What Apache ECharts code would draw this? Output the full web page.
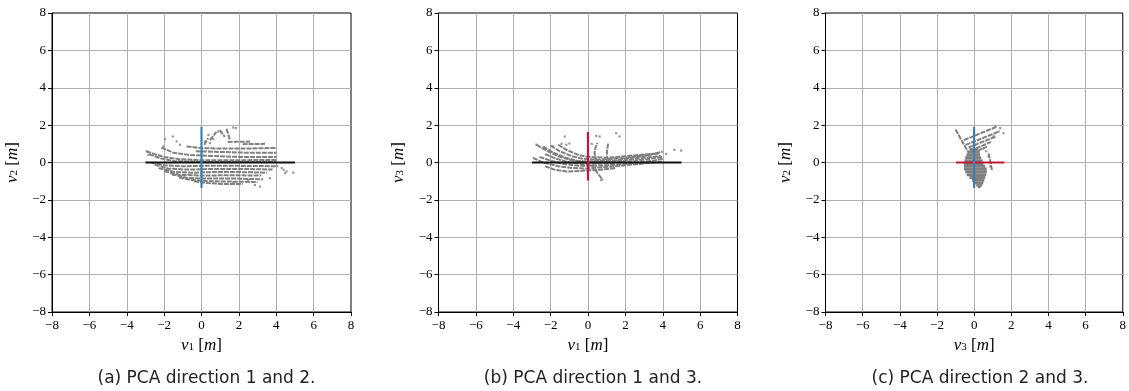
<!DOCTYPE html>
<html>
<head>
<meta charset="utf-8">
<script src="https://cdn.jsdelivr.net/npm/echarts@6/dist/echarts.min.js"></script>
<style>
  html, body { margin: 0; padding: 0; background: #fff; }
  #chart { width: 1129px; height: 391px; }
</style>
</head>
<body>
<div id="chart"></div>
<script>
// axis range / ticks shared by all three panels
const tickMin = -8;
const tickMax = 8;
const tickStep = 2;
const captions = ['(a) PCA direction 1 and 2.', '(b) PCA direction 1 and 3.', '(c) PCA direction 2 and 3.'];
const xNames = ['1', '1', '3'];
const yNames = ['2', '3', '2'];

// principal direction extents (metres)
const dirV1 = [-3.0, 5.0];
const dirV2 = [-1.36, 1.91];
const dirV3 = [-0.97, 1.63];

// panel (a): v1 vs v2, scan lines
const scanA = [
    [[-2.95, 0.6], [-2.5, 0.45], [-2.0, 0.3], [-1.2, 0.18], [0, 0.12], [2, 0.12], [4.0, 0.14]],
    [[-2.8, 0.45], [-2.2, 0.22], [-1.5, 0.08], [0, 0.03], [4.0, 0.03]],
    [[-2.15, 0.8], [-1.5, 0.52], [-0.6, 0.4], [0.5, 0.35], [2, 0.3], [4.0, 0.3]],
    [[-0.8, 0.86], [0, 0.77], [1, 0.75], [2.5, 0.75], [4.0, 0.78]],
    [[-0.3, 0.6], [0.5, 0.58], [1.6, 0.55], [2.5, 0.52], [4.0, 0.52]],
    [[1.4, 1.1], [2.6, 1.12]],
    [[2.2, 0.98], [3.4, 1.0]],
    [[0.45, 1.2], [0.8, 1.64]],
    [[0.98, 1.73], [1.25, 1.37]],
    [[1.34, 1.8], [1.52, 1.2]],
    [[0.15, 0.95], [0.35, 1.3]],
    [[-2.7, 0.0], [-2.0, -0.15], [-1, -0.2], [0, -0.18], [2, -0.18], [4.0, -0.2]],
    [[-2.5, -0.12], [-1.8, -0.32], [-0.8, -0.38], [0.5, -0.35], [2.5, -0.35], [3.8, -0.38]],
    [[-2.3, -0.3], [-1.5, -0.5], [-0.5, -0.55], [1, -0.5], [2.5, -0.52], [3.5, -0.55]],
    [[-2.0, -0.45], [-1.2, -0.66], [0, -0.7], [1.5, -0.68], [3.2, -0.7]],
    [[-1.6, -0.62], [-0.8, -0.82], [0, -0.86], [1.5, -0.85], [3.3, -0.9]],
    [[-1.2, -0.8], [-0.6, -0.93], [0.3, -1.0], [1.5, -1.02], [3.0, -1.05]],
    [[-0.4, -1.0], [0.3, -1.1], [1.2, -1.15], [2.2, -1.15]]
];
const dotsA = [
    [-1.95, 1.25], [-1.54, 1.39], [-2.04, 0.86], [-1.33, 1.13], [-1.15, 0.95], [0.37, 1.48],
    [0.9, 1.66], [1.7, 1.87], [1.84, 1.84], [0.19, 1.13], [0.45, 1.04], [0.63, 1.25],
    [4.55, -0.48], [4.91, -0.54], [4.29, -0.3], [4.47, -0.57], [-2.93, 0.59], [-2.84, 0.41],
    [-1.77, -0.39], [-1.51, -0.66], [2.86, -1.2], [3.13, -1.29], [2.5, -0.93], [3.66, -0.84],
    [1.7, -1.07], [4.05, -0.2], [4.4, -0.39]
];

// panel (b): v1 vs v3
const scanB = [
    [[-2.75, 0.95], [-2.2, 0.62], [-1.5, 0.3], [-0.8, 0.1], [0, 0.0], [1.5, 0.05], [3.0, 0.25], [3.9, 0.35]],
    [[-2.4, 0.85], [-1.9, 0.55], [-1.2, 0.25], [-0.5, 0.08], [0, 0.05], [1.5, 0.12], [3.0, 0.35], [3.8, 0.5]],
    [[-2.0, 0.9], [-1.5, 0.6], [-0.9, 0.35], [-0.3, 0.2], [0.5, 0.15], [2, 0.25], [3.5, 0.45], [4.0, 0.58]],
    [[-1.6, 0.95], [-1.1, 0.65], [-0.5, 0.4], [0, 0.3], [1, 0.25], [2.5, 0.38], [3.8, 0.5]],
    [[-2.95, 0.25], [-2.4, 0.0], [-1.6, -0.2], [-0.8, -0.3], [0, -0.32], [1.5, -0.2], [3, -0.05], [4, 0.05]],
    [[-2.6, 0.3], [-2.0, 0.1], [-1.3, -0.08], [-0.5, -0.18], [0.5, -0.18], [2, -0.08], [3.5, 0.1], [4, 0.2]],
    [[-2.3, 0.45], [-1.7, 0.2], [-1.0, 0.0], [-0.3, -0.08], [1, -0.05], [2.5, 0.08], [4, 0.3]],
    [[-2.3, -0.2], [-1.8, -0.38], [-1.16, -0.48], [-0.44, -0.45], [0.5, -0.4], [1.5, -0.3]],
    [[0.45, 0.05], [0.35, 0.5], [0.4, 0.8], [0.5, 1.05]],
    [[1.0, 0.1], [1.02, 0.6], [1.08, 1.05]],
    [[0.18, -0.13], [0.5, -0.55], [0.8, -0.95]]
];
const dotsB = [
    [-2.76, 0.95], [-1.87, 0.86], [-1.24, 1.39], [-1.16, 0.95], [-1.42, 1.0], [0.44, 1.43],
    [0.62, 1.39], [1.51, 1.57], [1.69, 1.39], [4.62, 0.68], [4.98, 0.64], [4.18, 0.46],
    [0.71, -0.93], [-1.0, 1.02], [0.2, 1.0]
];

// panel (c): v3 vs v2
const scanC = [
    [[-0.55, 1.2], [1.23, 1.92]],
    [[-0.46, 0.94], [1.32, 1.65]],
    [[-0.3, 0.8], [1.14, 1.38]],
    [[-0.2, 0.62], [0.9, 1.1]],
    [[-0.1, 0.49], [0.69, 0.85]],
    [[-1.0, 1.76], [-0.28, 0.49]],
    [[0.78, 0.49], [0.96, -0.4]]
];
// dense blob rows: [v2, v3 from, v3 to]
const blobC = [
    [0.7, -0.25, 0.2], [0.55, -0.35, 0.3], [0.4, -0.42, 0.32], [0.25, -0.48, 0.38],
    [0.1, -0.52, 0.45], [-0.05, -0.55, 0.5], [-0.2, -0.55, 0.6], [-0.35, -0.55, 0.68],
    [-0.5, -0.48, 0.68], [-0.65, -0.4, 0.65], [-0.8, -0.25, 0.6], [-0.95, -0.12, 0.55],
    [-1.1, 0.0, 0.5], [-1.22, 0.12, 0.42], [-1.3, 0.2, 0.35]
];
const dotsC = [
    [1.4, 1.84], [1.58, 1.57], [1.32, 1.66], [1.14, 1.93], [0.78, 0.32], [0.87, -0.21],
    [0.5, 0.75], [0.65, 0.6], [1.05, 1.4]
];

const GRAY = '#808080';
const BLACK = '#111111';
const BLUE = '#3b80b0';
const RED = '#c0163a';
const panelLeft = [52, 438.5, 825.5];
const plotSize = 299;
const plotTop = 13;

function fmtTick(v) {
    return v < 0 ? '\u2212' + Math.abs(v) : String(v);
}

const nameRich = {
    v: { fontFamily: 'Liberation Serif', fontStyle: 'italic', fontSize: 17, color: '#000', padding: [0, 0, 3, 0] },
    s: { fontFamily: 'Liberation Serif', fontSize: 11, color: '#000' },
    b: { fontFamily: 'Liberation Serif', fontSize: 17, color: '#000', padding: [0, 0, 3, 0] }
};

function axisBase(name, gap, idx) {
    return {
        gridIndex: idx,
        type: 'value',
        min: tickMin, max: tickMax, interval: tickStep,
        name: '{v|v}{s|' + name + '}{b| [}{v|m}{b|]}',
        nameLocation: 'middle',
        nameGap: gap,
        nameTextStyle: { rich: nameRich },
        axisLine: { onZero: false, lineStyle: { color: '#000', width: 1 } },
        axisTick: { show: true, length: 4, lineStyle: { color: '#000' } },
        axisLabel: {
            fontFamily: 'Liberation Serif', fontSize: 13, color: '#000',
            formatter: fmtTick
        },
        splitLine: { show: true, showMinLine: false, showMaxLine: false, lineStyle: { color: '#b0b0b0', width: 1 } }
    };
}

const grids = [], xAxes = [], yAxes = [], series = [], titles = [];

function addLines(lines, idx, color, width, dash) {
    lines.forEach(pts => {
        series.push({
            type: 'line', xAxisIndex: idx, yAxisIndex: idx,
            data: pts, showSymbol: false, silent: true, z: 2,
            lineStyle: { color: color, width: width, type: dash }
        });
    });
}

function addDots(dots, idx) {
    series.push({
        type: 'scatter', xAxisIndex: idx, yAxisIndex: idx,
        data: dots, symbol: 'rect', symbolSize: 2.2, silent: true, z: 2,
        itemStyle: { color: GRAY }
    });
}

function addDir(pts, idx, color, z) {
    series.push({
        type: 'line', xAxisIndex: idx, yAxisIndex: idx,
        data: pts, showSymbol: false, silent: true, z: z,
        lineStyle: { color: color, width: 2.2 }
    });
}

for (let i = 0; i < 3; i++) {
    grids.push({
        left: panelLeft[i], top: plotTop, width: plotSize, height: plotSize,
        show: true, borderColor: '#000', borderWidth: 1, backgroundColor: 'transparent'
    });
    const xa = axisBase(xNames[i], 24, i);
    xa.axisLabel.margin = 7;
    xAxes.push(xa);
    const ya = axisBase(yNames[i], 28, i);
    ya.axisLabel.margin = 6;
    yAxes.push(ya);
    titles.push({
        text: captions[i],
        left: panelLeft[i] + plotSize / 2, top: 365, textAlign: 'center',
        textStyle: { fontFamily: 'DejaVu Sans', fontWeight: 'normal', fontSize: 17, color: '#222' }
    });
}

// panel (a)
addLines(scanA, 0, GRAY, 2, [5, 1]);
addDots(dotsA, 0);
addDir([[dirV1[0], 0], [dirV1[1], 0]], 0, BLACK, 5);
addDir([[0, dirV2[0]], [0, dirV2[1]]], 0, BLUE, 6);

// panel (b)
addLines(scanB, 1, GRAY, 2, [5, 1]);
addDots(dotsB, 1);
addDir([[dirV1[0], 0], [dirV1[1], 0]], 1, BLACK, 5);
addDir([[0, dirV3[0]], [0, dirV3[1]]], 1, RED, 6);

// panel (c)
addLines(scanC, 2, GRAY, 2, [5, 1]);
addLines(blobC.map(r => [[r[1], r[0]], [r[2], r[0]]]), 2, GRAY, 3, 'solid');
addDots(dotsC, 2);
addDir([[dirV3[0], 0], [dirV3[1], 0]], 2, RED, 5);
addDir([[0, dirV2[0]], [0, dirV2[1]]], 2, BLUE, 6);

const chart = echarts.init(document.getElementById('chart'));
chart.setOption({
    animation: false,
    backgroundColor: '#fff',
    title: titles,
    grid: grids,
    xAxis: xAxes,
    yAxis: yAxes,
    series: series
});
</script>
</body>
</html>
